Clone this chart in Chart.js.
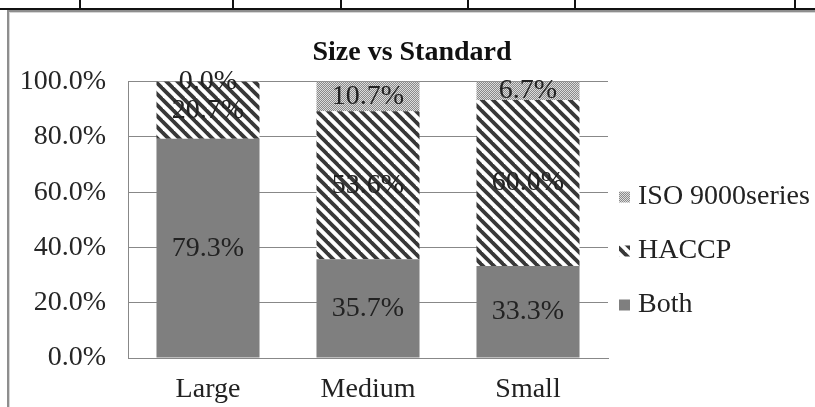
<!DOCTYPE html>
<html>
<head>
<meta charset="utf-8">
<title>Size vs Standard</title>
<script src="https://cdn.jsdelivr.net/npm/chart.js@4.4.1/dist/chart.umd.min.js"></script>
<style>
    html, body { margin: 0; padding: 0; background: #fff; overflow: hidden; }
    body { width: 815px; height: 407px; position: relative; }
    /* restos da tabela acima do gráfico */
    .tbl-h { position: absolute; left: 0; top: 8px; width: 815px; height: 2px; background: #111; }
    .tbl-v { position: absolute; top: 0; width: 2px; height: 9px; background: #111; }
    /* moldura do gráfico */
    .frame {
        position: absolute; left: 7px; top: 10px; width: 830px; height: 420px;
        border-left: 2px solid #8e8e8e; border-top: 2px solid #8e8e8e;
        box-shadow: inset 1px 1px 0 #d6d6d6;
    }
    #chart { position: absolute; left: 9px; top: 12px; }
</style>
</head>
<body>
<div class="tbl-h"></div>
<div class="tbl-v" style="left:79px"></div>
<div class="tbl-v" style="left:232px"></div>
<div class="tbl-v" style="left:340px"></div>
<div class="tbl-v" style="left:467px"></div>
<div class="tbl-v" style="left:574px"></div>
<div class="tbl-v" style="left:794px"></div>
<div class="frame"></div>
<canvas id="chart" width="806" height="395"></canvas>

<script>
/* Dados */
const categorias = ['Large', 'Medium', 'Small'];
const both       = [79.3, 35.7, 33.3];
const haccp      = [20.7, 53.6, 60.0];
const iso9000    = [0.0, 10.7, 6.7];
const yTicks     = [0, 20, 40, 60, 80, 100];

const FONTE = '"Liberation Serif", "Times New Roman", serif';

/* Hachuras */
function padraoListras() {
    const s = 11;
    const c = document.createElement('canvas');
    c.width = s; c.height = s;
    const g = c.getContext('2d');
    g.fillStyle = '#fff';
    g.fillRect(0, 0, s, s);
    g.strokeStyle = '#383838';
    g.lineWidth = 3.8;
    // linhas passam das bordas do ladrilho para não deixar falhas nas emendas
    for (let k = -1; k <= 1; k++) {
        g.beginPath();
        g.moveTo(k * s - 3, -3);
        g.lineTo(k * s + s + 3, s + 3);
        g.stroke();
    }
    return g.createPattern(c, 'repeat');
}

function padraoPontos() {
    const c = document.createElement('canvas');
    c.width = 2; c.height = 2;
    const g = c.getContext('2d');
    g.fillStyle = '#dcdcdc';
    g.fillRect(0, 0, 2, 2);
    g.fillStyle = '#8a8a8a';
    g.fillRect(0, 0, 1, 1);
    g.fillRect(1, 1, 1, 1);
    return g.createPattern(c, 'repeat');
}

/* Rótulos de valor no meio de cada segmento */
const rotulosBarras = {
    id: 'rotulosBarras',
    afterDatasetsDraw(chart) {
        const ctx = chart.ctx;
        ctx.save();
        ctx.font = '28px ' + FONTE;
        ctx.fillStyle = '#222';
        ctx.textAlign = 'center';
        ctx.textBaseline = 'middle';
        chart.data.datasets.forEach((ds, i) => {
            const meta = chart.getDatasetMeta(i);
            meta.data.forEach((bar, j) => {
                const y = (bar.y + bar.base) / 2;
                ctx.fillText(ds.data[j].toFixed(1) + '%', bar.x, y);
            });
        });
        ctx.restore();
    }
};

/* Legenda à direita, de cima para baixo na ordem inversa das séries */
const legendaLateral = {
    id: 'legendaLateral',
    afterDraw(chart) {
        const ctx = chart.ctx;
        const x0 = 610, y0 = 185, passo = 54, caixa = 11;
        ctx.save();
        ctx.font = '28px ' + FONTE;
        ctx.textBaseline = 'middle';
        const itens = chart.data.datasets.slice().reverse();
        itens.forEach((ds, i) => {
            const y = y0 + i * passo;
            ctx.fillStyle = ds.backgroundColor;
            ctx.fillRect(x0, y - caixa / 2, caixa, caixa);
            ctx.fillStyle = '#222';
            ctx.fillText(ds.label, x0 + 19, y);
        });
        ctx.restore();
    }
};

const ctx = document.getElementById('chart').getContext('2d');

new Chart(ctx, {
    type: 'bar',
    data: {
        labels: categorias,
        datasets: [
            { label: 'Both', data: both, backgroundColor: '#7f7f7f' },
            { label: 'HACCP', data: haccp, backgroundColor: padraoListras() },
            { label: 'ISO 9000series', data: iso9000, backgroundColor: padraoPontos() }
        ]
    },
    options: {
        responsive: false,
        animation: false,
        devicePixelRatio: 1,
        datasets: {
            bar: { categoryPercentage: 1, barPercentage: 0.644, borderWidth: 0 }
        },
        plugins: {
            legend: { display: false },
            tooltip: { enabled: false },
            title: {
                display: true,
                text: 'Size vs Standard',
                color: '#111',
                font: { family: FONTE, size: 28, weight: 'bold' },
                padding: { top: 24, bottom: 12 }
            }
        },
        scales: {
            x: {
                stacked: true,
                grid: { display: false, drawTicks: false },
                border: { display: true, color: '#888', width: 1 },
                ticks: {
                    color: '#222',
                    padding: 15,
                    font: { family: FONTE, size: 28 }
                },
                afterFit: (scale) => { scale.height = 49; }
            },
            y: {
                stacked: true,
                min: 0,
                max: 100,
                afterBuildTicks: (scale) => {
                    scale.ticks = yTicks.map(v => ({ value: v }));
                },
                grid: { color: '#888', lineWidth: 1, drawTicks: false },
                border: { display: true, color: '#888', width: 1 },
                ticks: {
                    color: '#262626',
                    padding: 22,
                    font: { family: FONTE, size: 28 },
                    callback: (v) => Number(v).toFixed(1) + '%'
                },
                afterFit: (scale) => { scale.width = 119; }
            },
            /* eixo vazio à direita: só reserva o espaço da legenda */
            reserva: {
                type: 'linear',
                position: 'right',
                grid: { display: false },
                border: { display: false },
                ticks: { display: false },
                afterFit: (scale) => { scale.width = 207; }
            }
        }
    },
    plugins: [rotulosBarras, legendaLateral]
});
</script>
</body>
</html>
